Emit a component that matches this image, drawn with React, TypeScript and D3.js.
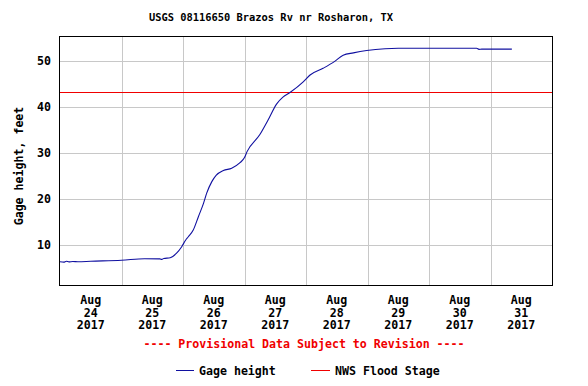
import React from "react";
import * as d3 from "d3";

const title = "USGS 08116650 Brazos Rv nr Rosharon, TX";
const yAxisTitle = "Gage height, feet";
const provisionalNote = "---- Provisional Data Subject to Revision ----";
const legendLabels = ["Gage height", "NWS Flood Stage"];

const floodStage = 43;
const yTicks = [10, 20, 30, 40, 50];
const dayLabels = ["24", "25", "26", "27", "28", "29", "30", "31"];

const times = [
  "2017-08-24T00:00", "2017-08-24T01:30", "2017-08-24T02:30", "2017-08-24T03:30",
  "2017-08-24T05:00", "2017-08-24T07:00", "2017-08-24T12:00", "2017-08-25T00:00",
  "2017-08-25T09:00", "2017-08-25T15:00", "2017-08-25T15:45", "2017-08-25T16:30",
  "2017-08-25T19:00", "2017-08-25T21:30", "2017-08-25T23:30", "2017-08-26T01:00",
  "2017-08-26T02:00", "2017-08-26T04:00", "2017-08-26T06:00", "2017-08-26T08:00",
  "2017-08-26T09:15", "2017-08-26T11:15", "2017-08-26T13:00", "2017-08-26T15:45",
  "2017-08-26T19:00", "2017-08-26T22:15", "2017-08-27T00:00", "2017-08-27T01:00",
  "2017-08-27T06:00", "2017-08-27T09:15", "2017-08-27T12:30", "2017-08-27T15:00",
  "2017-08-27T17:45", "2017-08-27T22:55", "2017-08-28T01:35", "2017-08-28T06:40",
  "2017-08-28T11:20", "2017-08-28T14:30", "2017-08-28T18:30", "2017-08-28T23:40",
  "2017-08-29T06:50", "2017-08-29T12:00", "2017-08-30T00:00", "2017-08-30T18:35",
  "2017-08-30T19:30", "2017-08-30T20:35", "2017-08-31T08:20",
];

const gageValues = [
  6.45, 6.35, 6.55, 6.4,
  6.5, 6.45, 6.55, 6.75,
  7.1, 7.05, 6.95, 7.15,
  7.3, 8.3, 9.7, 11.1,
  11.8, 13.3, 16.2, 19.1,
  21.3, 23.8, 25.2, 26.2,
  26.7, 27.9, 29.0, 30.3,
  34.0, 37.2, 40.6, 42.1,
  43.1, 45.4, 46.9, 48.35,
  49.9, 51.2, 51.7, 52.2,
  52.6, 52.7, 52.7, 52.7,
  52.45, 52.5, 52.5,
];

const W = 588;
const H = 386;
const left = 60;
const right = 552;
const top = 36;
const bottom = 285;
const mono = "'DejaVu Sans Mono', 'Liberation Mono', monospace";
const red = "#f00000";
const blue = "#1010a0";

export default function App() {
  const parse = d3.timeParse("%Y-%m-%dT%H:%M");
  const start = parse("2017-08-24T00:00") as Date;
  const end = parse("2017-09-01T00:00") as Date;
  const x = d3.scaleTime().domain([start, end]).range([left, right]);
  const y = d3.scaleLinear().domain([1.4, 55.35]).range([bottom, top]);

  const data = times.map((t, i) => ({ t: parse(t) as Date, v: gageValues[i] }));
  const line = d3
    .line<{ t: Date; v: number }>()
    .x((d) => x(d.t))
    .y((d) => y(d.v))
    .curve(d3.curveMonotoneX);

  const midnights = d3.timeDay.range(d3.timeDay.offset(start, 1), end);
  const noons = dayLabels.map((_, i) => d3.timeHour.offset(d3.timeDay.offset(start, i), 12));
  const floodY = Math.floor(y(floodStage) - 0.5);

  return (
    <svg
      width={W}
      height={H}
      style={{ position: "absolute", left: 0, top: 0, background: "#fff" }}
      fontFamily={mono}
      fontWeight="bold"
    >
      <rect x={0} y={0} width={W} height={H} fill="#fff" />
      <text x={271} y={21} fontSize={10.4} textAnchor="middle" fill="#000">
        {title}
      </text>

      {yTicks.map((v) => (
        <line key={"gy" + v} x1={left} x2={right} y1={Math.round(y(v)) + 0.5} y2={Math.round(y(v)) + 0.5} stroke="#c8c8c8" strokeWidth={1} />
      ))}
      {midnights.map((d, i) => (
        <line key={"gx" + i} x1={Math.round(x(d)) + 0.5} x2={Math.round(x(d)) + 0.5} y1={top} y2={bottom} stroke="#c8c8c8" strokeWidth={1} />
      ))}

      <rect x={left} y={floodY} width={right - left} height={1} fill={red} shapeRendering="crispEdges" />

      <path d={line(data) || ""} fill="none" stroke={blue} strokeWidth={1.1} />

      <rect x={left - 0.5} y={top + 0.5} width={right - left + 1} height={bottom - top} fill="none" stroke="#000" strokeWidth={1} />

      {yTicks.map((v) => (
        <text key={"ty" + v} x={51} y={y(v) + 4} fontSize={11.6} textAnchor="end" fill="#000">
          {v}
        </text>
      ))}

      <text transform={`translate(23,166) rotate(-90)`} fontSize={11.6} textAnchor="middle" fill="#000">
        {yAxisTitle}
      </text>

      {noons.map((d, i) => (
        <text key={"tx" + i} x={x(d)} fontSize={11.6} textAnchor="middle" fill="#000">
          <tspan x={x(d)} y={304}>Aug</tspan>
          <tspan x={x(d)} y={316.5}>{dayLabels[i]}</tspan>
          <tspan x={x(d)} y={329}>2017</tspan>
        </text>
      ))}

      <text x={304} y={348} fontSize={11.6} textAnchor="middle" fill={red}>
        {provisionalNote}
      </text>

      <rect x={176} y={370} width={18} height={1} fill={blue} shapeRendering="crispEdges" />
      <text x={199} y={375} fontSize={11.6} fill="#000">{legendLabels[0]}</text>
      <rect x={311} y={370} width={19} height={1} fill={red} shapeRendering="crispEdges" />
      <text x={335} y={375} fontSize={11.6} fill="#000">{legendLabels[1]}</text>
    </svg>
  );
}
